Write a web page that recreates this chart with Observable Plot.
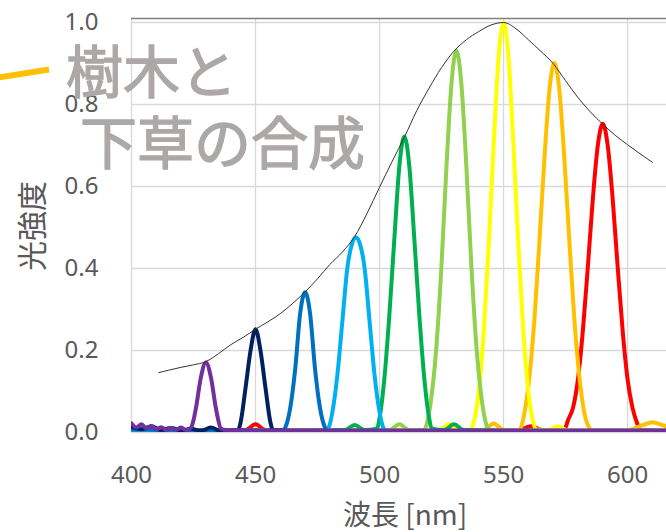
<!DOCTYPE html>
<html>
<head>
<meta charset="utf-8">
<script src="https://cdn.jsdelivr.net/npm/d3@7"></script>
<script src="https://cdn.jsdelivr.net/npm/@observablehq/plot@0.6"></script>
<style>
  html, body { margin: 0; padding: 0; background: #fff; overflow: hidden; }
  #wrap { position: relative; width: 666px; height: 532px; overflow: hidden; }
  .ov { position: absolute; white-space: nowrap; font-family: "Noto Sans CJK JP", "Noto Sans", sans-serif; line-height: 1; }
</style>
</head>
<body>
<div id="wrap"></div>
<script>
// ---- data ----
const xTicks = [400, 450, 500, 550, 600];
const yTicks = [0, 0.2, 0.4, 0.6, 0.8, 1.0];

const envelope = [[411,0.146],[415,0.152],[420,0.159],[425,0.165],[430,0.173],[435,0.192],[440,0.214],[445,0.232],[450,0.252],[455,0.27],[460,0.29],[465,0.315],[470,0.343],[475,0.375],[480,0.41],[485,0.44],[490,0.478],[495,0.535],[500,0.598],[505,0.66],[510,0.72],[515,0.785],[520,0.84],[525,0.89],[530,0.93],[535,0.958],[540,0.978],[545,0.994],[550,1.0],[555,0.985],[560,0.958],[565,0.93],[570,0.90],[575,0.858],[580,0.817],[585,0.782],[590,0.752],[595,0.725],[600,0.702],[605,0.68],[610,0.659]];

const purple = [[400,0.022],[402,0.012],[404,0.02],[406,0.01],[408,0.016],[410,0.008],[412,0.013],[414,0.006],[416,0.011],[418,0.007],[420,0.012],[422,0.006],[424,0.012],[425,0.03],[426,0.06],[428,0.135],[430,0.171],[432,0.135],[434,0.06],[435,0.03],[436,0.01],[438,0.006],[460,0.005],[520,0.005],[620,0.005]];
const navy = [[400,0.014],[404,0.008],[408,0.015],[412,0.006],[416,0.011],[420,0.005],[424,0.009],[428,0.004],[432,0.012],[436,0.004],[443,0.006],[444,0.025],[446,0.11],[448,0.2],[450,0.252],[452,0.2],[454,0.11],[456,0.025],[457,0.006],[470,0.003],[620,0.003]];
const blue = [[400,0.008],[420,0.006],[440,0.004],[461,0.004],[462,0.012],[464,0.06],[466,0.155],[468,0.29],[470,0.342],[472,0.29],[474,0.155],[476,0.06],[478,0.012],[479,0.004],[500,0.003],[620,0.003]];
const lightBlue = [[400,0.006],[440,0.004],[478,0.004],[479.5,0.012],[481,0.05],[483,0.14],[485,0.27],[487,0.4],[489,0.462],[490.5,0.476],[492,0.462],[494,0.4],[496,0.27],[498,0.14],[500,0.05],[501.5,0.012],[502.5,0.004],[520,0.003],[620,0.003]];
const green = [[400,0.005],[470,0.004],[486,0.006],[490,0.018],[494,0.006],[499,0.01],[500,0.035],[502,0.135],[504,0.29],[506,0.475],[508,0.65],[510,0.722],[512,0.65],[514,0.475],[516,0.29],[518,0.135],[520,0.035],[521,0.01],[526,0.006],[530,0.02],[534,0.006],[560,0.004],[620,0.004]];
const lightGreen = [[400,0.004],[490,0.004],[504,0.006],[508,0.02],[512,0.006],[518,0.006],[519,0.02],[521,0.09],[523,0.215],[525,0.41],[527,0.65],[529,0.85],[531,0.932],[533,0.85],[535,0.65],[537,0.41],[539,0.215],[541,0.09],[543,0.02],[544,0.006],[560,0.004],[620,0.004]];
const yellow = [[400,0.004],[500,0.004],[524,0.006],[528,0.02],[532,0.006],[537,0.008],[538,0.025],[540,0.1],[542,0.245],[544,0.455],[546,0.70],[548,0.915],[550,1.0],[552,0.915],[554,0.70],[556,0.455],[558,0.245],[560,0.1],[562,0.025],[563,0.008],[568,0.006],[572,0.015],[576,0.005],[620,0.004]];
const orange = [[400,0.004],[520,0.004],[542,0.006],[546,0.022],[550,0.006],[556,0.004],[557,0.012],[558.5,0.05],[560.5,0.14],[562.5,0.28],[564.5,0.47],[566.5,0.67],[568.5,0.835],[570.5,0.901],[572.5,0.835],[574.5,0.67],[576.5,0.47],[578.5,0.28],[580.5,0.14],[582.5,0.05],[584.5,0.012],[586,0.004],[600,0.005],[606,0.018],[610,0.025],[614,0.018],[620,0.008]];
const red = [[400,0.004],[440,0.004],[446,0.006],[450,0.02],[454,0.006],[540,0.004],[556,0.005],[561,0.015],[566,0.005],[574,0.004],[575,0.012],[576,0.03],[578,0.06],[580,0.13],[582,0.25],[584,0.405],[586,0.57],[588,0.70],[590,0.753],[592,0.70],[594,0.57],[596,0.405],[598,0.25],[600,0.13],[602,0.06],[604,0.02],[605,0.006],[620,0.004]];

const seriesOrder = [
  {name: "red", data: red, color: "#ff0000"},
  {name: "orange", data: orange, color: "#ffc000"},
  {name: "yellow", data: yellow, color: "#ffff00"},
  {name: "lightGreen", data: lightGreen, color: "#92d050"},
  {name: "green", data: green, color: "#00b050"},
  {name: "lightBlue", data: lightBlue, color: "#00b0f0"},
  {name: "blue", data: blue, color: "#0070c0"},
  {name: "navy", data: navy, color: "#002060"},
  {name: "purple", data: purple, color: "#7030a0"}
];

const yTop = 1.0098;

const chart = Plot.plot({
  width: 666,
  height: 532,
  marginLeft: 131,
  marginRight: 0,
  marginTop: 18,
  marginBottom: 100,
  style: {fontFamily: "'Noto Sans', sans-serif", fontSize: "24px", color: "#595959", background: "#fff", overflow: "hidden"},
  x: {domain: [400, 615.7]},
  y: {domain: [0, yTop]},
  marks: [
    Plot.gridX(xTicks, {stroke: "#d9d9d9", strokeOpacity: 1, strokeWidth: 1.3}),
    Plot.gridY(yTicks, {stroke: "#d9d9d9", strokeOpacity: 1, strokeWidth: 1.3}),
    Plot.ruleY([yTop], {stroke: "#7f7f7f", strokeWidth: 1.3}),
    ...seriesOrder.map(s => Plot.line(s.data, {x: d => d[0], y: d => d[1], stroke: s.color, strokeWidth: 4, curve: "monotone-x", clip: true})),
    Plot.line(envelope, {x: d => d[0], y: d => d[1], stroke: "#333", strokeWidth: 1, curve: "monotone-x"}),
    Plot.axisX(xTicks, {tickSize: 0, tickPadding: 33, fontSize: 24, fill: "#595959", label: null}),
    Plot.axisY(yTicks, {tickSize: 0, tickPadding: 33, fontSize: 24, fill: "#595959", tickFormat: d3.format(".1f"), label: null})
  ]
});

const wrap = document.getElementById("wrap");
chart.style.position = "absolute";
chart.style.left = "0px";
chart.style.top = "0px";
wrap.appendChild(chart);

function addText(txt, css) {
  const d = document.createElement("div");
  d.className = "ov";
  d.textContent = txt;
  Object.assign(d.style, css);
  wrap.appendChild(d);
  return d;
}
// axis titles
addText("光強度", {left: "30px", top: "226px", fontSize: "30px", color: "#595959", transform: "translate(-50%, -50%) rotate(-90deg)"});
addText("波長 [nm]", {left: "405px", top: "513px", fontSize: "28px", color: "#595959", transform: "translate(-50%, -50%)"});
// annotation
addText("樹木と", {left: "66px", top: "40px", fontSize: "57px", color: "#aca8a7", webkitTextStroke: "1.3px #aca8a7"});
addText("下草の合成", {left: "80px", top: "111px", fontSize: "57px", color: "#aca8a7", webkitTextStroke: "1.3px #aca8a7"});

// annotation pointer stroke
const ns = "http://www.w3.org/2000/svg";
const sv = document.createElementNS(ns, "svg");
sv.setAttribute("width", "60"); sv.setAttribute("height", "100");
sv.style.position = "absolute"; sv.style.left = "0px"; sv.style.top = "0px";
const ln = document.createElementNS(ns, "line");
ln.setAttribute("x1", "-2"); ln.setAttribute("y1", "77.5");
ln.setAttribute("x2", "49"); ln.setAttribute("y2", "69.5");
ln.setAttribute("stroke", "#ffc000"); ln.setAttribute("stroke-width", "6");
sv.appendChild(ln);
wrap.appendChild(sv);
</script>
</body>
</html>
